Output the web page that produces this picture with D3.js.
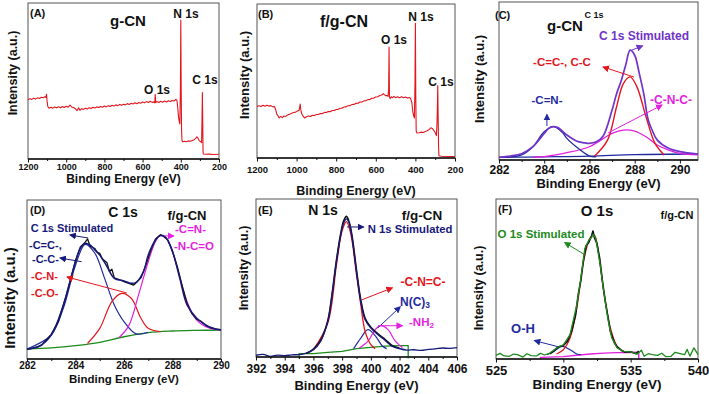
<!DOCTYPE html>
<html>
<head>
<meta charset="utf-8">
<script src="https://cdn.jsdelivr.net/npm/d3@7"></script>
<style>
body { margin: 0; background: #fff; }
svg text { font-family: "Liberation Sans", Arial, sans-serif; font-weight: bold; }
</style>
</head>
<body>
<svg id="fig" width="709" height="394"></svg>
<script>
// ---- data: [binding energy (eV), intensity (a.u., 0-100 of the panel height)] ----
var surveyA = [[1200,38],[1190,38.6],[1180,38.2],[1170,39],[1160,38.4],[1150,39.2],[1140,38.8],[1130,39.6],[1120,39.2],[1112,40],[1106,39.4],[1103,41.5],[1100,37],[1096,33.5],[1090,32.6],[1080,33.2],[1070,32.6],[1060,33.4],[1050,32.8],[1040,33.5],[1030,32.9],[1020,33.6],[1010,33],[1000,33.8],[990,33.2],[980,34.6],[972,33.4],[960,32.8],[950,32],[943,31],[935,32.8],[928,31.2],[920,32.2],[910,31.8],[900,32.5],[890,32],[880,32.9],[870,32.4],[860,33.2],[850,32.7],[840,33.4],[830,33],[820,33.7],[810,33.2],[800,34],[790,33.4],[780,34.2],[770,33.7],[760,34.5],[750,34],[740,34.7],[730,34.2],[720,35],[710,34.4],[700,35.1],[690,34.7],[680,35.5],[670,35],[660,35.7],[650,35.3],[640,36],[630,35.4],[620,36.2],[610,35.8],[600,36.5],[590,36],[580,36.8],[570,36.2],[560,37],[550,36.3],[540,36.6],[536,36],[534,41.5],[531,36.2],[525,36.8],[515,36.2],[505,37],[495,36.4],[485,37.2],[475,36.6],[465,37.3],[455,36.8],[445,37.5],[435,37.2],[425,38.3],[420,37.5],[416,33],[412,27],[408,24],[405,22.5],[402,45],[400,89],[398,45],[396,19],[394,12],[390,11],[380,11.4],[370,11.1],[360,11.6],[350,11.4],[340,11.9],[330,12.4],[322,13.2],[316,14.2],[310,13.4],[305,12],[300,11.4],[295,11],[291,10.5],[289,25],[287,42.6],[285,22],[283.5,5],[282,3.2],[270,3],[250,3.1],[230,2.9],[200,3]];

var surveyB = [[1200,33.5],[1190,33.9],[1180,33.4],[1170,34.2],[1160,33.6],[1150,34.3],[1140,33.7],[1130,34],[1120,33.2],[1112,33.4],[1106,31.5],[1100,28.5],[1094,27.5],[1088,26],[1080,27],[1072,26.2],[1064,27.3],[1055,27],[1045,28],[1035,28.4],[1025,29],[1015,29.5],[1005,29.8],[995,30.6],[987,31],[982,35],[979,31.5],[975,29],[968,27.3],[960,26],[950,26.8],[940,27.3],[930,27],[920,27.8],[910,27.6],[900,28.2],[890,28.2],[880,28.9],[870,28.8],[860,29.6],[850,29.5],[840,30.2],[830,30.1],[820,30.8],[810,30.8],[800,31.5],[790,31.6],[780,32.3],[770,32.4],[760,33.1],[750,33.2],[740,33.9],[730,34],[720,34.7],[710,34.8],[700,35.5],[690,35.6],[680,36.3],[670,36.4],[660,37.1],[650,37.2],[640,37.9],[630,38],[620,38.8],[610,38.9],[600,39.6],[590,39.8],[580,40.6],[570,40.9],[562,41.8],[556,41],[550,40.4],[544,40.6],[538,40],[535,45],[533,72],[531,40],[528,38.5],[522,39.8],[515,39.2],[508,40],[500,39.2],[490,39.8],[480,39.1],[470,39.7],[460,39.1],[450,39.6],[440,38.9],[430,39.3],[424,38.6],[418,36],[413,30],[408,27],[405,26],[402,50],[400,87.5],[398,40],[396,17.5],[392,16.2],[380,16.4],[370,16.8],[360,16.6],[350,17.2],[340,17.7],[330,18.6],[322,19.6],[315,19.2],[308,18],[302,17],[297,15.5],[294,14.5],[291,22],[289,32],[287,47],[285,26],[283,7.5],[281,1.5],[270,1.1],[240,1],[200,1]];

var cEnvelope = [[282,1.7],[282.5,2.5],[283,4],[283.5,8.4],[284,16.8],[284.2,20],[284.4,21.1],[284.6,20.5],[285,15.8],[285.3,13],[285.5,11.6],[285.8,10.8],[286,10.5],[286.3,11.5],[286.6,15],[287,31.6],[287.2,42],[287.4,50],[287.6,60],[287.8,69.5],[288,66.3],[288.2,55],[288.4,42],[288.6,25.3],[288.8,18],[289,12.6],[289.5,7.4],[290,5.3],[290.8,3.8]];
var cBaseline = [[282,1.7],[284,2.0],[286,2.4],[288,3.4],[290.8,3.8]];
var cCN = [[282.3,1.7],[283,3.2],[283.5,8.4],[284,17.9],[284.4,21.1],[284.8,17.5],[285,13.7],[285.5,7.4],[286,2.5],[286.3,2.1]];
var cCC = [[286.2,2.1],[286.8,12.6],[287.2,33.7],[287.5,48.4],[287.8,52.6],[288.1,46.3],[288.5,27.4],[288.9,10.5],[289.3,3.2]];
var cCNC = [[283.5,1.9],[284,2.1],[285,4.6],[286,8.4],[286.5,12.6],[287,16.8],[287.5,18.9],[288,18.3],[288.5,14.7],[289,9.5],[289.5,6.3],[290,4.2],[290.8,3.2]];

var dRaw = [[282,6.0],[282.3,7.0],[282.6,8.6],[283,15.5],[283.3,24],[283.6,39],[284,62],[284.2,70.5],[284.4,73.5],[284.5,75.5],[284.6,71],[284.8,69.5],[284.9,67],[285,66.5],[285.1,63],[285.3,60.5],[285.4,55],[285.5,56.5],[285.6,51],[285.8,50],[286,48.7],[286.2,47.5],[286.4,46.5],[286.5,48],[286.7,51],[286.9,59],[287.1,68],[287.3,75.5],[287.5,78.2],[287.6,77.5],[287.8,75],[288,68],[288.2,58],[288.4,46],[288.6,35],[288.8,28.5],[289,25],[289.2,23.5],[289.4,20.8],[289.6,19.5],[289.8,18.8],[290,18.5]];
var dEnvelope = [[282,6.3],[282.5,8],[283,15.1],[283.5,34],[284,61.2],[284.2,69.6],[284.4,72.7],[284.6,71.7],[284.8,68.6],[285,65.4],[285.3,58.1],[285.6,50.7],[286,49.1],[286.3,47.6],[286.5,48.2],[286.8,54.9],[287,65.4],[287.3,74.8],[287.5,77.6],[287.7,76.9],[288,67.5],[288.3,50.7],[288.6,34],[289,25.6],[289.5,20.3],[290,18.2]];
var dBaseline = [[282,6.3],[283,7],[284,8.4],[285,10.5],[286,14],[287,16.6],[288,17.6],[289,18],[290,18.2]];
var dCC = [[282,6.3],[283,15.1],[283.5,32],[284,59],[284.4,72.1],[284.8,66.5],[285.2,50.7],[285.6,34],[286,23.5],[286.5,15.8],[287,16.8]];
var dCN = [[284.5,9.9],[285,19.3],[285.5,36.1],[285.9,41.3],[286.3,38.2],[286.7,25.6],[287,19.3],[287.5,17.2]];
var dCNCO = [[285.8,13.5],[286.2,21],[286.6,40.3],[287,61.2],[287.3,74],[287.5,77.6],[287.8,74.8],[288.2,57],[288.6,36.1],[289,24.5],[289.5,19.5],[290,18.2]];

var eEnvelope = [[392,1.1],[392.5,1.6],[393,0.4],[393.5,1.2],[394,0.8],[394.5,1.4],[395,1.5],[395.5,2.5],[396,4.6],[396.5,9.9],[397,22.5],[397.3,39.4],[397.6,60.4],[397.9,77.3],[398.1,84.6],[398.3,87.4],[398.5,84.6],[398.7,75.2],[399,54.1],[399.3,35.2],[399.6,23.6],[400,18.3],[400.5,14.1],[401,10.5],[401.5,6.7],[402,5.3],[402.5,4.4],[403,4.6],[403.5,4.2],[404,4.8],[404.5,5.2],[405,5.7],[405.5,5.4],[406,5.9]];
var eRaw = [[395.5,2.2],[396,5],[396.5,10.5],[397,23],[397.3,40],[397.6,61],[397.9,78],[398.1,86],[398.3,89],[398.5,85],[398.7,76],[399,55],[399.3,36],[399.6,24.5],[400,18.8],[400.5,14.6],[401,11],[401.5,7.2],[402,5.6]];
var eBaseline = [[395,-1],[395,2.1],[396,2.1],[397,2.9],[398,3.6],[399,5.3],[400,6.1],[401,6.9],[402,7.2],[402.6,7.2],[402.6,-1]];
var eCNC = [[396,4.6],[397,21.5],[397.6,58],[398,80],[398.3,85.7],[398.6,78],[399,52],[399.3,33],[399.6,16.2],[400,7.8],[400.3,5.3]];
var eNC3 = [[398.8,5.3],[399.3,12],[399.8,17.3],[400.3,13.5],[400.8,7],[401.1,5.3]];
var eNH2 = [[399.2,5.7],[399.8,10],[400.3,17.3],[400.7,19.8],[401.2,17.3],[401.7,10],[402.2,6]];

var fEnvelope = [[525,2.3],[525.3,3.5],[525.6,1.9],[526,1.7],[526.3,3.1],[526.6,2.7],[527,1.2],[527.3,3.3],[527.6,2.1],[528,1.9],[528.3,3.5],[528.6,2.5],[529,3.7],[529.5,6.9],[530,8.9],[530.5,15.2],[531,33.9],[531.3,50.5],[531.6,69.2],[531.9,74.4],[532.1,76],[532.2,78],[532.4,75.5],[532.7,60.9],[533,42.2],[533.3,25.6],[533.6,13.1],[534,6.9],[534.5,4.8],[535,4.4],[535.5,3.1],[535.8,5.5],[536,1.7],[536.3,3.3],[536.6,2.7],[537,2.3],[537.3,3.6],[537.6,1.5],[538,1.7],[538.3,4.2],[538.6,3.5],[539,2.7],[539.2,6],[539.4,1.8],[539.7,7],[540,2.7]];
var fRaw = [[529,3.2],[529.3,5],[529.6,7.5],[530,8.5],[530.3,11],[530.6,17],[530.9,27],[531.1,40],[531.3,49],[531.5,62],[531.7,71],[531.9,73],[532.1,77],[532.2,80],[532.3,76],[532.5,72],[532.7,63],[532.9,49],[533.1,37],[533.3,27],[533.5,17],[533.8,10],[534,7.5],[534.3,5.5],[534.6,4.2],[535,4.5],[535.4,3.3],[535.6,5]];
var fMain = [[529.5,3.1],[530,5.8],[530.5,13.1],[531,31.8],[531.5,60.9],[532,75.9],[532.3,77.5],[532.7,60.9],[533,42.2],[533.5,19.3],[534,7.9],[534.5,4.4]];
var fOH = [[528.8,2.7],[529.3,4.8],[529.9,7.9],[530.5,5.8],[531,3.1],[531.3,2.7]];
var fBaseline = [[528.3,-0.4],[528.3,1],[530,1.5],[531,2.3],[532,3.1],[533,3.7],[534,4],[535.6,4.2],[535.6,-0.4]];

var surveyTicks = [1200, 1000, 800, 600, 400, 200];
var surveyMinor = [1100, 900, 700, 500, 300];
var cTicks = [282, 284, 286, 288, 290];
var cMinor = [283, 285, 287, 289];
var eTicks = [392, 394, 396, 398, 400, 402, 404, 406];
var eMinor = [393, 395, 397, 399, 401, 403, 405];
var fTicks = [525, 530, 535, 540];
var fMinor = [527.5, 532.5, 537.5];

var RED = '#e3161e', NAVY = '#1f2b9e', DNAVY = '#17197a', PURPLE = '#7133c8',
    MAGENTA = '#e31fe0', GREEN = '#1c8a1c';

var svg = d3.select('#fig');
var defs = svg.append('defs');
var markers = {};
function marker(color) {
    if (markers[color]) return markers[color];
    var id = 'arr' + Object.keys(markers).length;
    defs.append('marker')
        .attr('id', id)
        .attr('markerUnits', 'userSpaceOnUse')
        .attr('markerWidth', 7).attr('markerHeight', 7)
        .attr('refX', 6).attr('refY', 3.5)
        .attr('orient', 'auto')
        .append('path').attr('d', 'M0,0 L7,3.5 L0,7 z').attr('fill', color);
    markers[color] = 'url(#' + id + ')';
    return markers[color];
}

function drawPanel(p) {
    var x = d3.scaleLinear().domain(p.domain).range([p.box[0], p.box[2]]);
    var y = d3.scaleLinear().domain([0, 100]).range([p.box[3], p.box[1]]);
    var g = svg.append('g');

    g.append('rect')
        .attr('x', p.box[0]).attr('y', p.box[1])
        .attr('width', p.box[2] - p.box[0]).attr('height', p.box[3] - p.box[1])
        .attr('fill', 'none').attr('stroke', '#555').attr('stroke-width', 1);

    p.series.forEach(function (s) {
        var line = d3.line()
            .x(function (d) { return x(d[0]); })
            .y(function (d) { return y(d[1]); })
            .curve(s.smooth ? d3.curveCatmullRom.alpha(0.5) : d3.curveLinear);
        g.append('path').datum(s.data)
            .attr('d', line)
            .attr('fill', 'none')
            .attr('stroke', s.color)
            .attr('stroke-width', s.w || 1.3)
            .attr('stroke-linejoin', 'round');
    });

    var axMinor = d3.axisBottom(x).tickValues(p.minor).tickSize(2).tickFormat('');
    var axMajor = d3.axisBottom(x).tickValues(p.major).tickSize(p.tick || 3.5)
        .tickPadding(p.pad).tickFormat(d3.format('d'));
    [axMinor, axMajor].forEach(function (ax) {
        var a = g.append('g').attr('transform', 'translate(0,' + p.box[3] + ')').call(ax);
        a.select('.domain').remove();
        a.selectAll('line').attr('stroke', '#111').attr('stroke-width', 1);
        a.attr('font-size', p.tickFont);
        a.selectAll('text').attr('fill', '#111');
    });
    g.append('line')
        .attr('x1', p.box[0]).attr('x2', p.box[2])
        .attr('y1', p.box[3]).attr('y2', p.box[3])
        .attr('stroke', '#111').attr('stroke-width', 1.6);

    g.append('text')
        .attr('x', (p.box[0] + p.box[2]) / 2).attr('y', p.titleY)
        .attr('text-anchor', 'middle').attr('dominant-baseline', 'central')
        .attr('font-size', p.titleFont).attr('fill', '#111')
        .text('Binding Energy (eV)');
    g.append('text')
        .attr('transform', 'translate(' + p.yTitle[0] + ',' + p.yTitle[1] + ') rotate(-90)')
        .attr('text-anchor', 'middle').attr('dominant-baseline', 'central')
        .attr('font-size', p.yTitleFont).attr('fill', '#111')
        .text('Intensity (a.u.)');

    p.arrows.forEach(function (a) {
        g.append('line')
            .attr('x1', x(a[0])).attr('y1', y(a[1]))
            .attr('x2', x(a[2])).attr('y2', y(a[3]))
            .attr('stroke', a[4]).attr('stroke-width', 1)
            .attr('marker-end', marker(a[4]));
    });

    p.texts.forEach(function (t) {
        var el = g.append('text')
            .attr('x', t.x).attr('y', t.y)
            .attr('text-anchor', t.anchor || 'middle')
            .attr('dominant-baseline', 'central')
            .attr('font-size', t.size).attr('fill', t.color || '#111');
        if (t.sub) {
            el.append('tspan').text(t.text);
            el.append('tspan').attr('font-size', t.size * 0.7).attr('dy', 3).text(t.sub);
        } else {
            el.text(t.text);
        }
    });
}

var panels = [
    {
        box: [28, 3, 219, 159], domain: [1200, 200], major: surveyTicks, minor: surveyMinor,
        tickFont: 9, pad: 1, titleFont: 12, titleY: 179, yTitle: [13, 73], yTitleFont: 12.5,
        series: [{ data: surveyA, color: RED, w: 1.1 }],
        arrows: [],
        texts: [
            { text: '(A)', x: 30, y: 13, size: 11, anchor: 'start' },
            { text: 'g-CN', x: 128, y: 20, size: 15 },
            { text: 'N 1s', x: 186, y: 14, size: 12 },
            { text: 'O 1s', x: 157, y: 90, size: 12 },
            { text: 'C 1s', x: 205, y: 80, size: 12 }
        ]
    },
    {
        box: [257, 4, 455, 158], domain: [1200, 200], major: surveyTicks, minor: surveyMinor,
        tickFont: 9.5, pad: 5, titleFont: 12.5, titleY: 191, yTitle: [244, 75], yTitleFont: 13,
        series: [{ data: surveyB, color: RED, w: 1.1 }],
        arrows: [],
        texts: [
            { text: '(B)', x: 258, y: 14, size: 11, anchor: 'start' },
            { text: 'f/g-CN', x: 344, y: 21, size: 16 },
            { text: 'O 1s', x: 394, y: 40, size: 12 },
            { text: 'N 1s', x: 421, y: 17, size: 12 },
            { text: 'C 1s', x: 441, y: 82, size: 12 }
        ]
    },
    {
        box: [499, 2, 698, 160], domain: [282, 290.8], major: cTicks, minor: cMinor,
        tickFont: 12, pad: 1.5, titleFont: 13, titleY: 183, yTitle: [479, 79], yTitleFont: 13,
        series: [
            { data: cBaseline, color: NAVY, smooth: true, w: 1.3 },
            { data: cCNC, color: MAGENTA, smooth: true, w: 1.3 },
            { data: cCC, color: RED, smooth: true, w: 1.4 },
            { data: cCN, color: NAVY, smooth: true, w: 1.3 },
            { data: cEnvelope, color: PURPLE, smooth: true, w: 1.7 }
        ],
        arrows: [
            [287.88, 69.6, 288.35, 72.3, PURPLE],
            [287.97, 52.5, 286.6, 58.9, RED],
            [286.82, 17.1, 289.21, 34.8, MAGENTA],
            [284.12, 21.5, 284.12, 28.8, NAVY]
        ],
        texts: [
            { text: '(C)', x: 495, y: 15, size: 11, anchor: 'start' },
            { text: 'g-CN', x: 565, y: 25, size: 15 },
            { text: 'C 1s', x: 594, y: 15, size: 9 },
            { text: 'C 1s Stimulated', x: 644, y: 36, size: 12, color: PURPLE },
            { text: '-C=C-, C-C', x: 562, y: 62, size: 11.5, color: RED },
            { text: '-C-N-C-', x: 671, y: 100, size: 12, color: MAGENTA },
            { text: '-C=N-', x: 547, y: 100, size: 11.5, color: NAVY }
        ]
    },
    {
        box: [27, 200, 221, 359], domain: [282, 290], major: cTicks, minor: cMinor,
        tickFont: 10, tick: 3, pad: 0, titleFont: 11.5, titleY: 378.5, yTitle: [9, 298], yTitleFont: 15,
        series: [
            { data: dBaseline, color: GREEN, smooth: true, w: 1.3 },
            { data: dCC, color: NAVY, smooth: true, w: 1.2 },
            { data: dCN, color: RED, smooth: true, w: 1.2 },
            { data: dCNCO, color: MAGENTA, smooth: true, w: 1.2 },
            { data: dRaw, color: '#111', w: 1.3 },
            { data: dEnvelope, color: DNAVY, smooth: true, w: 1.5 }
        ],
        arrows: [
            [284.52, 76.1, 283.77, 78.0, DNAVY],
            [284.25, 61.2, 283.36, 63.5, DNAVY],
            [286.12, 41.5, 283.65, 51.6, RED],
            [287.69, 77.4, 288.05, 77.4, MAGENTA]
        ],
        texts: [
            { text: '(D)', x: 30, y: 210, size: 11, anchor: 'start' },
            { text: 'C 1s', x: 123, y: 212, size: 14 },
            { text: 'f/g-CN', x: 187, y: 215, size: 13 },
            { text: 'C 1s Stimulated', x: 72, y: 228, size: 11, color: DNAVY },
            { text: '-C=C-,', x: 29, y: 245, size: 11, color: DNAVY, anchor: 'start' },
            { text: '-C-C-', x: 32, y: 259, size: 11, color: DNAVY, anchor: 'start' },
            { text: '-C-N-', x: 31, y: 276, size: 11, color: RED, anchor: 'start' },
            { text: '-C-O-', x: 31, y: 293, size: 11, color: RED, anchor: 'start' },
            { text: '-C=N-', x: 175, y: 229, size: 11.5, color: MAGENTA, anchor: 'start' },
            { text: '-N-C=O', x: 174, y: 246, size: 11.5, color: MAGENTA, anchor: 'start' }
        ]
    },
    {
        box: [256, 199, 457, 357], domain: [392, 406], major: eTicks, minor: eMinor,
        tickFont: 12, pad: 4, titleFont: 13, titleY: 385, yTitle: [244, 268], yTitleFont: 12.5,
        series: [
            { data: eBaseline, color: GREEN, w: 1.3 },
            { data: eNC3, color: NAVY, smooth: true, w: 1.2 },
            { data: eNH2, color: MAGENTA, smooth: true, w: 1.2 },
            { data: eCNC, color: RED, smooth: true, w: 1.3 },
            { data: eRaw, color: '#111', smooth: true, w: 1.6 },
            { data: eEnvelope, color: DNAVY, smooth: true, w: 1.3 }
        ],
        arrows: [
            [398.34, 82.3, 399.5, 82.3, DNAVY],
            [399.38, 36.2, 401.5, 43.8, RED],
            [400.5, 18.5, 402.05, 31.8, NAVY],
            [400.5, 19.8, 402.2, 19.8, MAGENTA]
        ],
        texts: [
            { text: '(E)', x: 258, y: 210, size: 11, anchor: 'start' },
            { text: 'N 1s', x: 323, y: 210, size: 14 },
            { text: 'f/g-CN', x: 422, y: 215, size: 13.5 },
            { text: 'N 1s Stimulated', x: 410, y: 229, size: 11.3, color: DNAVY },
            { text: '-C-N=C-', x: 423, y: 282, size: 12, color: RED },
            { text: 'N(C)', sub: '3', x: 400, y: 302, size: 12, color: NAVY, anchor: 'start' },
            { text: '-NH', sub: '2', x: 409, y: 322, size: 11.5, color: MAGENTA, anchor: 'start' }
        ]
    },
    {
        box: [496, 199, 698, 359], domain: [525, 540], major: fTicks, minor: fMinor,
        tickFont: 13, pad: 3, titleFont: 13.5, titleY: 384, yTitle: [479, 288], yTitleFont: 12.5,
        series: [
            { data: fBaseline, color: MAGENTA, w: 1.4 },
            { data: fOH, color: NAVY, smooth: true, w: 1.2 },
            { data: fMain, color: RED, smooth: true, w: 1.2 },
            { data: fRaw, color: '#111', w: 1.6 },
            { data: fEnvelope, color: GREEN, w: 1.3 }
        ],
        arrows: [
            [531.61, 65.1, 530.1, 72.8, GREEN],
            [529.6, 7.7, 527.85, 11.5, NAVY]
        ],
        texts: [
            { text: '(F)', x: 498, y: 209, size: 11, anchor: 'start' },
            { text: 'O 1s', x: 597, y: 210, size: 15 },
            { text: 'f/g-CN', x: 677, y: 215, size: 11 },
            { text: 'O 1s Stimulated', x: 541, y: 234, size: 11.5, color: GREEN },
            { text: 'O-H', x: 523, y: 328, size: 13, color: NAVY }
        ]
    }
];

panels.forEach(drawPanel);
</script>
</body>
</html>
